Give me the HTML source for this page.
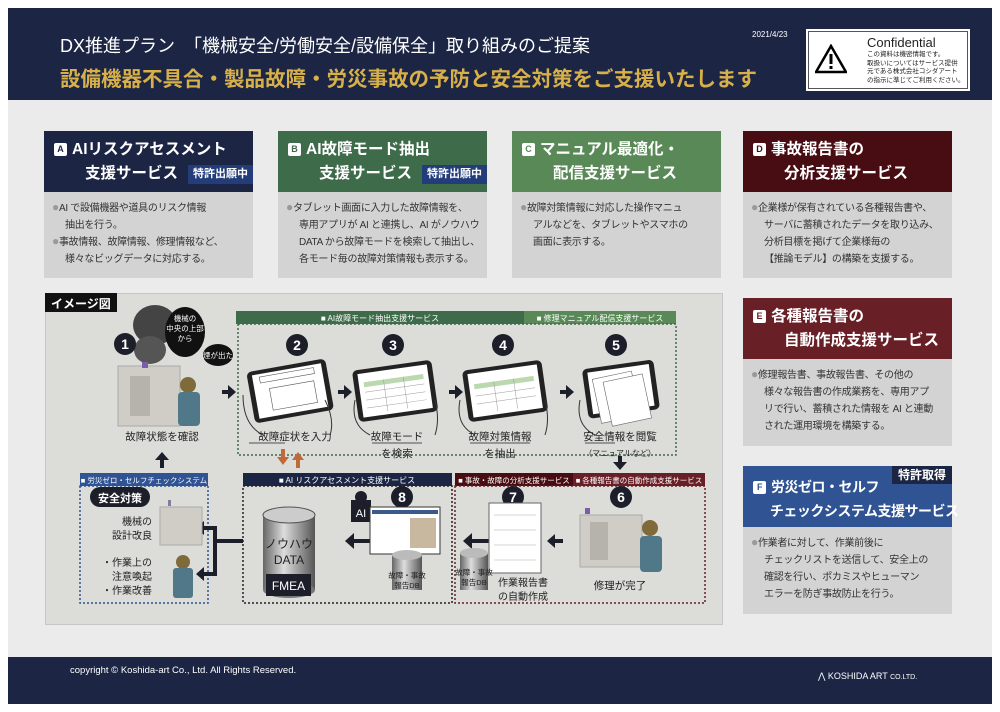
<!DOCTYPE html>
<html><head><meta charset="utf-8"><style>
*{margin:0;padding:0;box-sizing:border-box}
body{width:1000px;height:712px;background:#fff;position:relative;overflow:hidden;font-family:"Liberation Sans","Noto Sans CJK JP",sans-serif}
.a{position:absolute}
.hd{left:8px;top:8px;width:984px;height:92px;background:#1c2644}
.bd{left:8px;top:100px;width:984px;height:557px;background:#ebebeb}
.ft{left:8px;top:657px;width:984px;height:47px;background:#1c2644}
.card .h{color:#fff;font-weight:bold;font-size:15.5px;line-height:24px;padding:7px 0 0 10px;height:61px;white-space:nowrap;position:relative}
.card .b{background:#d3d3d3;font-size:10px;line-height:17px;color:#333;padding:8px 4px 0 8px;white-space:nowrap;letter-spacing:-0.3px}
.bul{color:#999;font-size:12px;line-height:10px}
.ind{padding-left:13px;display:block}
.lt{display:inline-block;width:13px;height:13px;background:#fff;border-radius:2px;font-size:9px;line-height:13px;text-align:center;vertical-align:2px;margin-right:5px}
.pat{position:absolute;right:0;top:34px;background:#233d7a;color:#fff;font-size:11px;line-height:19px;padding:0 5px}
</style></head><body>
<div class="a hd"></div>
<div class="a bd"></div>
<div class="a ft"></div>
<div class="a" style="left:60px;top:32px;color:#fff;font-size:18px;white-space:nowrap">DX推進プラン　「機械安全/労働安全/設備保全」取り組みのご提案</div>
<div class="a" style="left:60px;top:62px;color:#d8b04a;font-size:20.5px;font-weight:bold;white-space:nowrap">設備機器不具合・製品故障・労災事故の予防と安全対策をご支援いたします</div>
<div class="a" style="left:752px;top:30px;color:#fff;font-size:8px">2021/4/23</div>
<div class="a" style="left:806px;top:29px;width:164px;height:62px;background:#fff;padding:2px"><div style="border:1px solid #555;width:100%;height:100%;position:relative">
<svg class="a" style="left:6px;top:12px" width="32" height="30"><polygon points="16,2 31,28 1,28" fill="#fff" stroke="#000" stroke-width="2.5"/><rect x="14.5" y="10" width="3" height="10" fill="#000"/><rect x="14.5" y="22" width="3" height="3" fill="#000"/></svg>
<div class="a" style="left:58px;top:3px;font-size:13px;color:#222">Confidential</div>
<div class="a" style="left:58px;top:19px;font-size:6.5px;line-height:8.5px;color:#222;white-space:nowrap">この資料は機密情報です。<br>取扱いについてはサービス提供<br>元である株式会社コシダアート<br>の指示に準じてご利用ください。</div>
</div></div>

<div class="a card" style="left:44px;top:131px;width:209px"><div class="h" style="background:#1c2644"><span class="lt" style="color:#1c2644">A</span>AIリスクアセスメント<br>　　支援サービス<span class="pat">特許出願中</span></div><div class="b" style="height:86px"><span class="bul">●</span>AI で設備機器や道具のリスク情報<span class="ind">抽出を行う。</span><span class="bul">●</span>事故情報、故障情報、修理情報など、<span class="ind">様々なビッグデータに対応する。</span></div></div>
<div class="a card" style="left:278px;top:131px;width:209px"><div class="h" style="background:#3e6b4a"><span class="lt" style="color:#3e6b4a">B</span>AI故障モード抽出<br>　　支援サービス<span class="pat">特許出願中</span></div><div class="b" style="height:86px"><span class="bul">●</span>タブレット画面に入力した故障情報を、<span class="ind">専用アプリが AI と連携し、AI がノウハウ</span><span class="ind">DATA から故障モードを検索して抽出し、</span><span class="ind">各モード毎の故障対策情報も表示する。</span></div></div>
<div class="a card" style="left:512px;top:131px;width:209px"><div class="h" style="background:#5a8958"><span class="lt" style="color:#5a8958">C</span>マニュアル最適化・<br>　　配信支援サービス</div><div class="b" style="height:86px"><span class="bul">●</span>故障対策情報に対応した操作マニュ<span class="ind">アルなどを、タブレットやスマホの</span><span class="ind">画面に表示する。</span></div></div>
<div class="a card" style="left:743px;top:131px;width:209px"><div class="h" style="background:#480d12"><span class="lt" style="color:#480d12">D</span>事故報告書の<br>　　分析支援サービス</div><div class="b" style="height:86px"><span class="bul">●</span>企業様が保有されている各種報告書や、<span class="ind">サーバに蓄積されたデータを取り込み、</span><span class="ind">分析目標を掲げて企業様毎の</span><span class="ind">【推論モデル】の構築を支援する。</span></div></div>
<div class="a card" style="left:743px;top:298px;width:209px"><div class="h" style="background:#681f26"><span class="lt" style="color:#681f26">E</span>各種報告書の<br>　　自動作成支援サービス</div><div class="b" style="height:87px"><span class="bul">●</span>修理報告書、事故報告書、その他の<span class="ind">様々な報告書の作成業務を、専用アプ</span><span class="ind">リで行い、蓄積された情報を AI と連動</span><span class="ind">された運用環境を構築する。</span></div></div>
<div class="a card" style="left:743px;top:466px;width:209px"><div class="h" style="background:#2f5393;font-size:14px;padding-top:9px;letter-spacing:-0.5px"><span style="position:absolute;right:0;top:0;background:#1c2644;font-size:12px;line-height:18px;padding:0 6px;letter-spacing:0">特許取得</span><span class="lt" style="color:#2f5393">F</span>労災ゼロ・セルフ<br>　 チェックシステム支援サービス</div><div class="b" style="height:87px"><span class="bul">●</span>作業者に対して、作業前後に<span class="ind">チェックリストを送信して、安全上の</span><span class="ind">確認を行い、ポカミスやヒューマン</span><span class="ind">エラーを防ぎ事故防止を行う。</span></div></div>

<div class="a" style="left:45px;top:293px;width:678px;height:332px;background:#dcdcd9;border:1px solid #c6c6c6"></div>
<svg class="a" style="left:0;top:0" width="1000" height="712" viewBox="0 0 1000 712" font-family="Liberation Sans, Noto Sans CJK JP, sans-serif">
<defs>
<linearGradient id="cy" x1="0" x2="1"><stop offset="0" stop-color="#666"/><stop offset=".4" stop-color="#ddd"/><stop offset="1" stop-color="#555"/></linearGradient>
</defs>
<rect x="45" y="293" width="72" height="19" fill="#111"/><text x="51" y="308" fill="#fff" font-size="12" font-weight="bold">イメージ図</text>
<rect x="236" y="311" width="288" height="13" fill="#3e6b4a"/><rect x="524" y="311" width="152" height="13" fill="#5a8958"/>
<text x="380" y="321" fill="#fff" font-size="8" text-anchor="middle">■ AI故障モード抽出支援サービス</text>
<text x="600" y="321" fill="#fff" font-size="8" text-anchor="middle">■ 修理マニュアル配信支援サービス</text>
<rect x="238" y="324" width="438" height="131" fill="none" stroke="#3e6b4a" stroke-width="1.5" stroke-dasharray="2,2"/>
<rect x="80" y="473" width="128" height="13" fill="#2f5393"/><text x="144" y="483" fill="#fff" font-size="7.5" text-anchor="middle">■ 労災ゼロ・セルフチェックシステム</text>
<rect x="80" y="486" width="128" height="117" fill="none" stroke="#2f5393" stroke-width="1.5" stroke-dasharray="2,2"/>
<rect x="243" y="473" width="209" height="13" fill="#1c2644"/><text x="347" y="483" fill="#fff" font-size="8" text-anchor="middle">■ AI リスクアセスメント支援サービス</text>
<rect x="243" y="486" width="209" height="117" fill="none" stroke="#222" stroke-width="1.5" stroke-dasharray="2,2"/>
<rect x="455" y="473" width="118" height="13" fill="#480d12"/><rect x="573" y="473" width="132" height="13" fill="#681f26"/>
<text x="514" y="483" fill="#fff" font-size="7.5" text-anchor="middle">■ 事故・故障の分析支援サービス</text>
<text x="639" y="483" fill="#fff" font-size="7.5" text-anchor="middle">■ 各種報告書の自動作成支援サービス</text>
<rect x="455" y="486" width="250" height="117" fill="none" stroke="#681f26" stroke-width="1.5" stroke-dasharray="2,2"/>
<ellipse cx="155" cy="325" rx="22" ry="20" fill="#444"/><ellipse cx="150" cy="350" rx="16" ry="14" fill="#555"/>
<rect x="118" y="366" width="62" height="60" fill="#cfcdc6" stroke="#aaa"/><rect x="130" y="376" width="20" height="40" fill="#b5b3ac"/><rect x="142" y="362" width="6" height="6" fill="#7a5fa8"/>
<circle cx="188" cy="385" r="8" fill="#7f6a3a"/><rect x="178" y="392" width="22" height="34" rx="4" fill="#517888"/>
<ellipse cx="185" cy="332" rx="20" ry="25" fill="#111"/><ellipse cx="218" cy="355" rx="15" ry="11" fill="#111"/>
<text x="185" y="321" fill="#fff" font-size="7.5" text-anchor="middle">機械の</text><text x="185" y="331" fill="#fff" font-size="7.5" text-anchor="middle">中央の上部</text><text x="185" y="341" fill="#fff" font-size="7.5" text-anchor="middle">から</text><text x="218" y="358" fill="#fff" font-size="7.5" text-anchor="middle">煙が出た</text>
<g fill="#1c1f2a"><circle cx="125" cy="344" r="11"/><circle cx="297" cy="345" r="11"/><circle cx="393" cy="345" r="11"/><circle cx="503" cy="345" r="11"/><circle cx="616" cy="345" r="11"/><circle cx="402" cy="497" r="11"/><circle cx="513" cy="497" r="11"/><circle cx="621" cy="497" r="11"/></g>
<g fill="#fff" font-size="14" font-weight="bold" text-anchor="middle"><text x="125" y="349">1</text><text x="297" y="350">2</text><text x="393" y="350">3</text><text x="503" y="350">4</text><text x="616" y="350">5</text><text x="402" y="502">8</text><text x="513" y="502">7</text><text x="621" y="502">6</text></g>
<g transform="rotate(-10 290 390)"><rect x="250" y="365" width="80" height="52" rx="5" fill="#222"/><rect x="255" y="369" width="70" height="44" fill="#fff"/><rect x="262" y="372" width="55" height="6" fill="none" stroke="#555" stroke-width=".6"/><rect x="270" y="385" width="45" height="22" fill="none" stroke="#555" stroke-width=".6"/></g>
<g transform="rotate(-8 395 390)"><rect x="355" y="365" width="80" height="52" rx="5" fill="#222"/><rect x="360" y="369" width="70" height="44" fill="#fff"/><rect x="365" y="378" width="60" height="5" fill="#bcd8b0"/><path d="M365 388h60M365 396h60M365 404h60M385 378v32M405 378v32" stroke="#999" stroke-width=".5"/></g>
<g transform="rotate(-8 505 390)"><rect x="465" y="365" width="80" height="52" rx="5" fill="#222"/><rect x="470" y="369" width="70" height="44" fill="#fff"/><rect x="475" y="380" width="60" height="5" fill="#bcd8b0"/><path d="M475 392h60M475 400h60M495 380v30M515 380v30" stroke="#999" stroke-width=".5"/></g>
<g transform="rotate(-8 615 390)"><rect x="585" y="365" width="72" height="50" rx="5" fill="#222"/><rect x="590" y="369" width="62" height="42" fill="#fff"/></g>
<g transform="rotate(-12 615 395)"><rect x="596" y="375" width="40" height="45" fill="#fff" stroke="#666" stroke-width=".6"/><rect x="606" y="380" width="40" height="45" fill="#fff" stroke="#666" stroke-width=".6"/></g>
<g fill="none" stroke="#333" stroke-width="1"><path d="M243 395q0 30 20 40M325 400q10 20 5 35M355 400q-5 25 15 35M435 400q5 20 0 35M460 400q-5 25 15 35M545 400q5 20 0 35M580 400q-5 25 15 35"/></g>
<g fill="#1c1f2a">
<path d="M222 390h6v-5l8 7-8 7v-5h-6z"/><path d="M338 390h6v-5l8 7-8 7v-5h-6z"/><path d="M449 390h6v-5l8 7-8 7v-5h-6z"/><path d="M560 390h6v-5l8 7-8 7v-5h-6z"/>
<path d="M160 468v-8h-5l7-8 7 8h-5v8z"/><path d="M618 456v6h-5l7 8 7-8h-5v-6z"/>
<path d="M563 539h-8v-5l-8 7 8 7v-5h8z"/><path d="M490 539h-18v-6l-9 8 9 8v-6h18z"/><path d="M372 539h-18v-6l-9 8 9 8v-6h18z"/>
<path d="M212 526h-8v-5l-8 7 8 7v-5h8z"/><path d="M212 572h-8v-5l-8 7 8 7v-5h8z"/>
</g>
<path d="M243 541H215V528h-3M215 541V574h-3" fill="none" stroke="#1c1f2a" stroke-width="4"/>
<g fill="#c06a3a"><path d="M281 449v8h-4l6 8 6-8h-4v-8z"/><path d="M296 468v-8h-4l6-8 6 8h-4v8z"/></g>
<g font-size="10.5" fill="#222" text-anchor="middle"><text x="162" y="440">故障状態を確認</text><text x="295" y="440">故障症状を入力</text><text x="397" y="440">故障モード</text><text x="397" y="457">を検索</text><text x="500" y="440">故障対策情報</text><text x="500" y="457">を抽出</text><text x="620" y="440">安全情報を閲覧</text><text x="620" y="456" font-size="8">（マニュアルなど）</text></g>
<g stroke="#222" stroke-width=".7"><path d="M249 443h36M372 443h50M470 443h60M585 443h30"/></g>
<rect x="90" y="487" width="60" height="20" rx="10" fill="#1c1f2a"/><text x="120" y="502" fill="#fff" font-size="11" font-weight="bold" text-anchor="middle">安全対策</text>
<rect x="160" y="507" width="42" height="38" fill="#cfcdc6" stroke="#aaa"/><rect x="168" y="500" width="3" height="6" fill="#8a7a9a"/>
<circle cx="183" cy="562" r="7" fill="#7f6a3a"/><rect x="173" y="568" width="20" height="30" rx="3" fill="#517888"/>
<g font-size="10" fill="#222" text-anchor="end"><text x="152" y="525">機械の</text><text x="152" y="539">設計改良</text><text x="152" y="566">・作業上の</text><text x="152" y="580">注意喚起</text><text x="152" y="594">・作業改善</text></g>
<rect x="263" y="515" width="52" height="75" fill="url(#cy)"/><ellipse cx="289" cy="515" rx="26" ry="8" fill="#ccc" stroke="#555"/><ellipse cx="289" cy="590" rx="26" ry="8" fill="#777"/>
<text x="289" y="548" font-size="12" fill="#222" text-anchor="middle">ノウハウ</text><text x="289" y="564" font-size="12" fill="#222" text-anchor="middle">DATA</text>
<rect x="266" y="574" width="45" height="22" fill="#1c1f2a"/><text x="288.5" y="590" fill="#fff" font-size="12" text-anchor="middle">FMEA</text>
<rect x="351" y="500" width="20" height="22" fill="#1c1f2a"/><circle cx="361" cy="497" r="6" fill="#1c1f2a"/><text x="361" y="517" fill="#fff" font-size="11" text-anchor="middle">AI</text>
<rect x="370" y="507" width="70" height="47" fill="#fff" stroke="#333"/><rect x="372" y="510" width="66" height="4" fill="#3a5a8a"/><rect x="410" y="518" width="26" height="30" fill="#c8b8a0"/>
<rect x="392" y="555" width="30" height="35" fill="url(#cy)"/><ellipse cx="407" cy="555" rx="15" ry="5" fill="#bbb"/>
<text x="407" y="578" font-size="7.5" text-anchor="middle" fill="#222">故障・事故</text><text x="407" y="588" font-size="7.5" text-anchor="middle" fill="#222">報告DB</text>
<rect x="489" y="503" width="52" height="70" fill="#fff" stroke="#666"/><path d="M494 515h42M494 530h42M494 545h42M494 560h42" stroke="#aaa" stroke-width=".5"/>
<rect x="460" y="553" width="28" height="37" fill="url(#cy)"/><ellipse cx="474" cy="553" rx="14" ry="5" fill="#bbb"/>
<text x="474" y="575" font-size="7.5" text-anchor="middle" fill="#222">故障・事故</text><text x="474" y="585" font-size="7.5" text-anchor="middle" fill="#222">報告DB</text>
<text x="523" y="586" font-size="10" text-anchor="middle" fill="#222">作業報告書</text><text x="523" y="600" font-size="10" text-anchor="middle" fill="#222">の自動作成</text>
<rect x="580" y="515" width="62" height="52" fill="#cfcdc6" stroke="#aaa"/><rect x="590" y="522" width="18" height="38" fill="#b5b3ac"/><rect x="585" y="508" width="5" height="6" fill="#7a5fa8"/>
<circle cx="650" cy="528" r="8" fill="#7f6a3a"/><rect x="640" y="536" width="22" height="36" rx="4" fill="#517888"/>
<text x="620" y="589" font-size="10.5" text-anchor="middle" fill="#222">修理が完了</text>
</svg>

<div class="a" style="left:70px;top:665px;color:#fff;font-size:9.5px">copyright © Koshida-art Co., Ltd. All Rights Reserved.</div>
<div class="a" style="left:818px;top:671px;color:#fff;font-size:9px;white-space:nowrap">⋀ KOSHIDA ART <span style="font-size:7px">CO.LTD.</span></div>
</body></html>
